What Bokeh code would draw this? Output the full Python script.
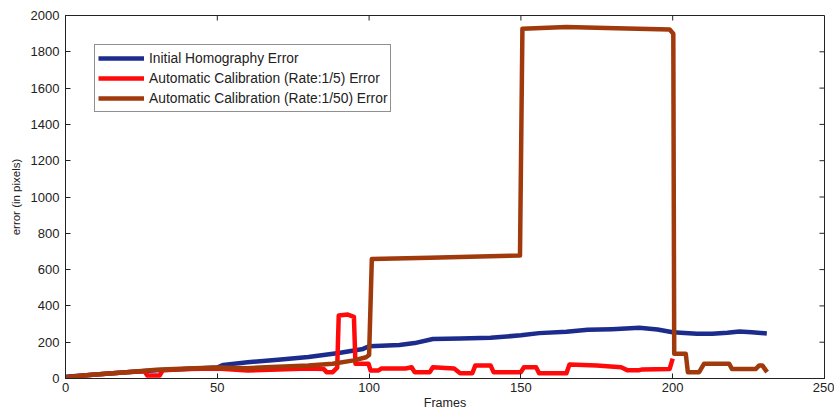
import math
from bokeh.plotting import figure
from bokeh.models import Range1d, Legend, LegendItem, FixedTicker
from bokeh.embed import file_html
from bokeh.resources import INLINE

# Initial Homography Error
blue_x = [0, 10, 20, 30, 40, 50, 52, 60, 70, 80, 90, 98, 100, 110, 115, 121, 130, 140,
          150, 156, 165, 172, 180, 189, 195, 200, 208, 213, 218, 222, 226, 231]
blue_y = [10, 22, 35, 45, 52, 60, 75, 90, 103, 118, 140, 163, 178, 185, 195, 218, 220, 224,
          238, 250, 258, 268, 272, 279, 270, 255, 246, 246, 252, 259, 255, 248]

# Automatic Calibration (Rate:1/5) Error
red_x = [0, 5, 10, 20, 26, 27, 31, 32, 40, 50, 60, 70, 80, 85, 86, 88, 89.5, 90, 93, 95,
         95.5, 99.8, 100.5, 103, 104, 112, 114, 115, 120, 121, 128, 130, 134, 135, 140,
         141, 150, 151, 155, 156, 165, 166, 175, 183, 185, 189, 190, 199, 200]
red_y = [5, 15, 22, 35, 40, 16, 16, 45, 52, 55, 44, 50, 55, 53, 35, 35, 60, 347, 352, 340,
         81, 81, 44, 44, 55, 55, 62, 35, 35, 62, 55, 29, 29, 72, 72,
         35, 35, 62, 62, 29, 29, 77, 72, 62, 46, 46, 50, 53, 110]

# Automatic Calibration (Rate:1/50) Error
brown_x = [0, 5, 10, 20, 30, 40, 50, 60, 70, 80, 88, 95, 99, 100, 100.9, 120, 149.7, 150.5,
           165, 181.5, 199, 200.2, 200.5, 204.3, 205, 208.7, 210.3, 218.6, 219.5, 227.4,
           228.5, 229.5, 231.1]
brown_y = [5, 15, 22, 35, 48, 55, 60, 57, 65, 72, 81, 100, 117, 130, 659, 665, 678, 1927,
           1936, 1930, 1923, 1900, 136, 136, 35, 35, 81, 81, 53, 53, 72, 72, 35]

x_ticks = [0, 50, 100, 150, 200, 250]
y_ticks = [0, 200, 400, 600, 800, 1000, 1200, 1400, 1600, 1800, 2000]
X_MAX = 250
Y_MAX = 2000

FONT = "Liberation Sans"
INK = "#222222"

p = figure(width=834, height=416, output_backend="svg", toolbar_location=None,
           x_range=Range1d(0, X_MAX), y_range=Range1d(0, Y_MAX),
           min_border_left=65, min_border_right=10, min_border_top=15, min_border_bottom=38)
p.background_fill_color = "white"
p.border_fill_color = "white"
p.outline_line_color = INK
p.outline_line_width = 1
p.xgrid.visible = False
p.ygrid.visible = False

for ax in p.xaxis + p.yaxis:
    ax.major_tick_in = 5
    ax.major_tick_out = 0
    ax.minor_tick_line_color = None
    ax.axis_line_color = INK
    ax.major_tick_line_color = INK
    ax.major_label_text_font = FONT
    ax.major_label_text_font_size = "13px"
    ax.major_label_text_color = INK
    ax.axis_label_text_font = FONT
    ax.axis_label_text_font_style = "normal"
    ax.axis_label_text_color = INK

p.xaxis.ticker = FixedTicker(ticks=x_ticks)
p.yaxis.ticker = FixedTicker(ticks=y_ticks)
p.xaxis.axis_label = "Frames"
p.yaxis.axis_label = "error (in pixels)"
p.xaxis.axis_label_text_font_size = "12.5px"
p.yaxis.axis_label_text_font_size = "11.5px"
p.xaxis.major_label_standoff = 4
p.yaxis.major_label_standoff = 6
p.xaxis.axis_label_standoff = 1
p.yaxis.axis_label_standoff = 6

# inward ticks on the top and right edges of the box
p.ray(x=x_ticks, y=[Y_MAX] * len(x_ticks), length=5, length_units="screen",
      angle=-math.pi / 2, line_color=INK, line_width=1)
p.ray(x=[X_MAX] * len(y_ticks), y=y_ticks, length=5, length_units="screen",
      angle=math.pi, line_color=INK, line_width=1)

BLUE = "#1c2c8c"
RED = "#ff0a0a"
BROWN = "#a03a0c"

r1 = p.line(blue_x, blue_y, line_color=BLUE, line_width=4.5, line_join="round")
r2 = p.line(red_x, red_y, line_color=RED, line_width=4.5, line_join="round")
r3 = p.line(brown_x, brown_y, line_color=BROWN, line_width=4.5, line_join="round")

legend = Legend(items=[
    LegendItem(label="Initial Homography Error", renderers=[r1]),
    LegendItem(label="Automatic Calibration (Rate:1/5) Error", renderers=[r2]),
    LegendItem(label="Automatic Calibration (Rate:1/50) Error", renderers=[r3]),
], location="top_left")
legend.margin = 29
legend.padding = 3
legend.spacing = 0
legend.label_height = 20
legend.glyph_height = 20
legend.glyph_width = 46
legend.label_standoff = 5
legend.label_text_font = FONT
legend.label_text_font_size = "13.8px"
legend.label_text_color = INK
legend.border_line_color = INK
legend.border_line_width = 1
legend.background_fill_color = "white"
legend.background_fill_alpha = 1
p.add_layout(legend, "center")

open("out.html", "w").write(file_html(p, INLINE))
